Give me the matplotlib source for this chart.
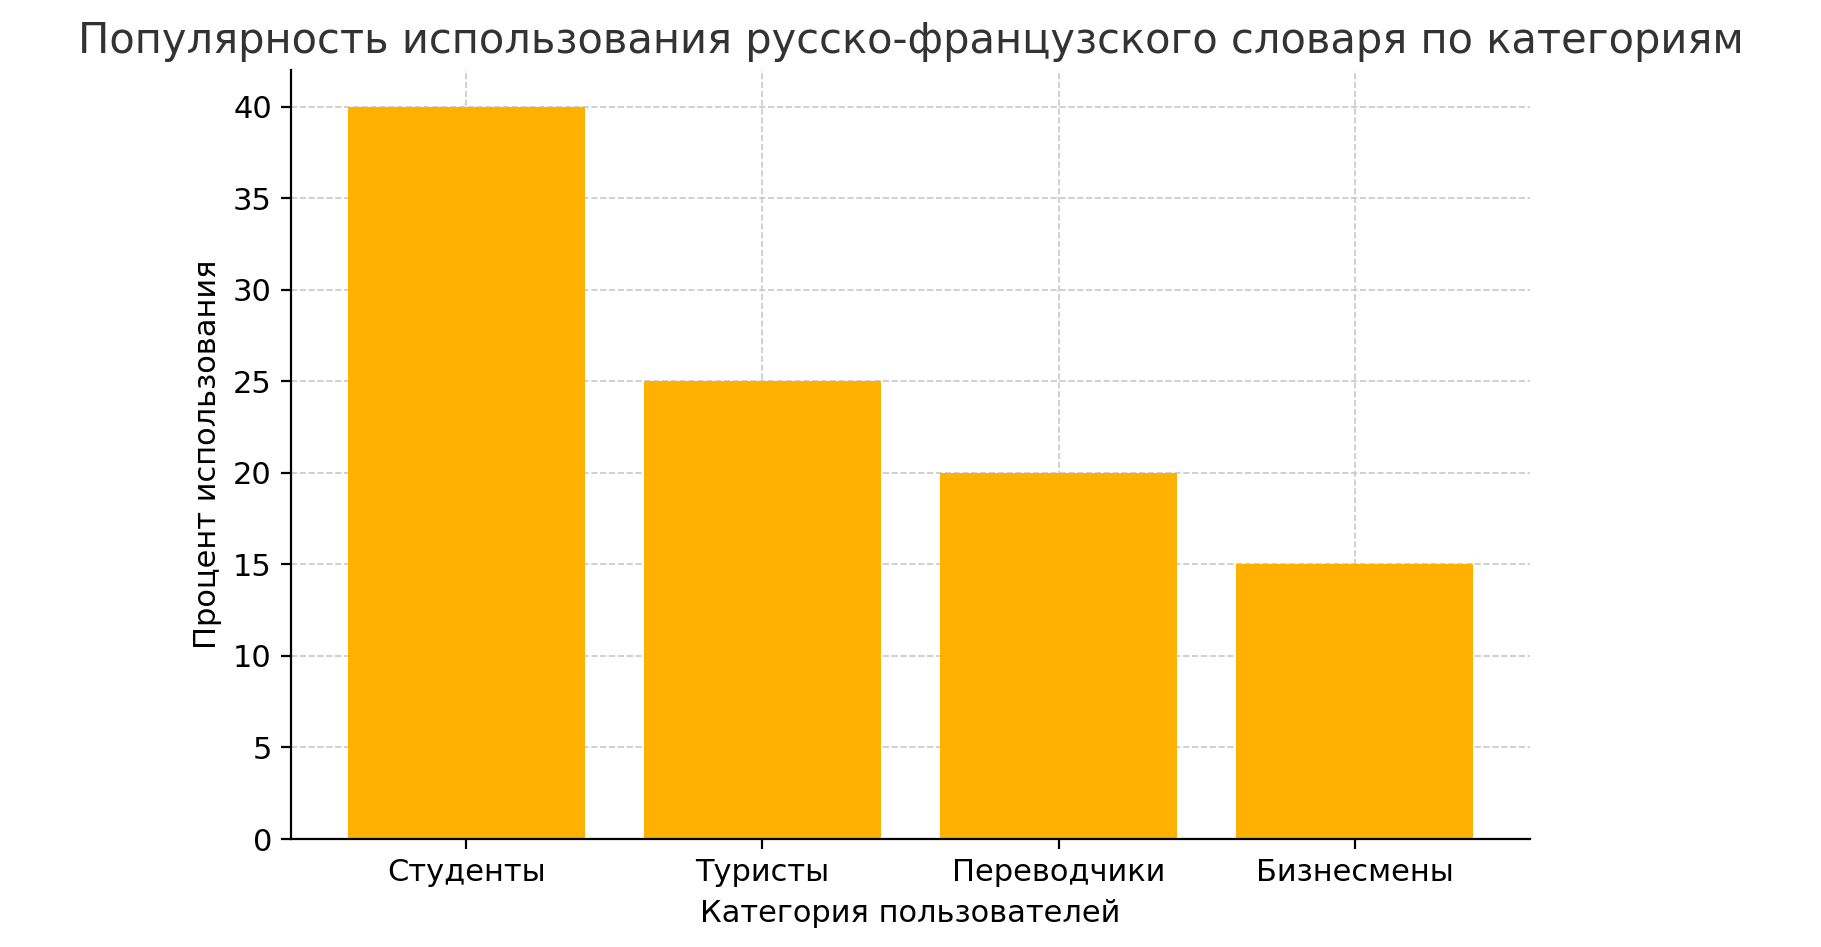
import matplotlib.pyplot as plt

categories = ['Студенты', 'Туристы', 'Переводчики', 'Бизнесмены']
usage = [40, 25, 20, 15]
yticks = [0, 5, 10, 15, 20, 25, 30, 35, 40]

plt.rcParams['font.family'] = ['DejaVu Sans']
fig = plt.figure(figsize=(9.105, 4.735), dpi=200)
ax = fig.add_axes([0.16, 0.114, 0.68, 0.812])

ax.bar(categories, usage, color='#FFB000', width=0.8, zorder=2)
ax.set_yticks(yticks)
ax.set_ylim(0, 42)
ax.grid(True, linestyle='--', color='#c8c8c8', linewidth=0.6, zorder=0)
ax.spines['top'].set_visible(False)
ax.spines['right'].set_visible(False)
ax.tick_params(labelsize=11)
ax.set_xlabel('Категория пользователей', fontsize=11)
ax.set_ylabel('Процент использования', fontsize=11)
ax.set_title('Популярность использования русско-французского словаря по категориям',
             fontsize=15, color='#333333')

fig.savefig('out.png', dpi=200)
